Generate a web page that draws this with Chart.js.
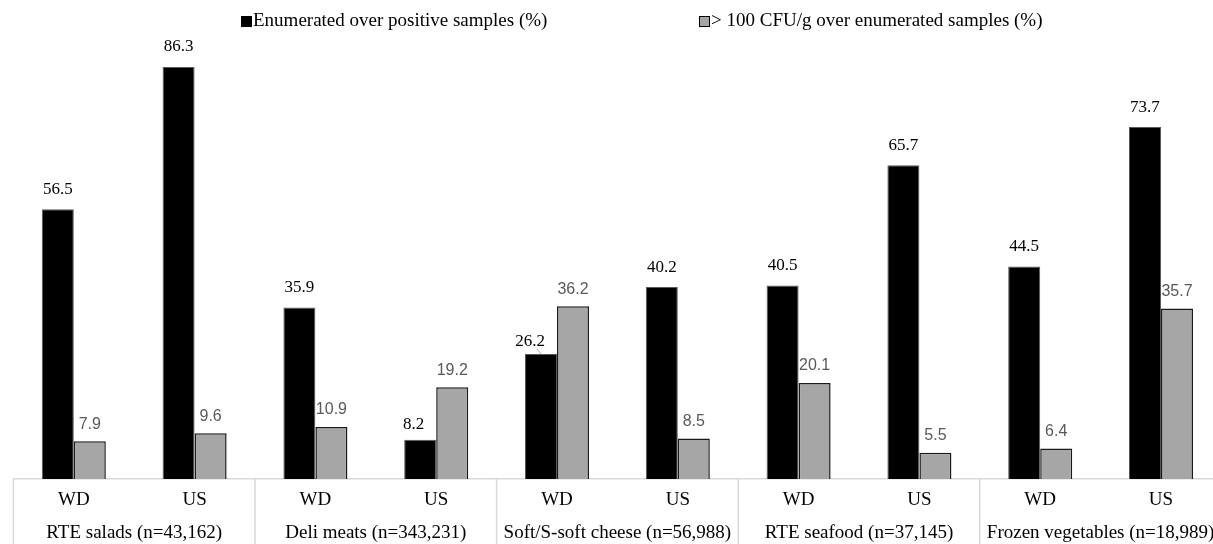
<!DOCTYPE html>
<html><head><meta charset="utf-8">
<script src="https://cdn.jsdelivr.net/npm/chart.js@4.4.1/dist/chart.umd.min.js"></script>
<style>html,body{margin:0;padding:0;background:#fff;overflow:hidden;}</style>
</head><body>
<canvas id="c" width="1222" height="545"></canvas>
<script>
const categories = ['WD','US','WD','US','WD','US','WD','US','WD','US'];
const groups = ['RTE salads (n=43,162)','Deli meats (n=343,231)','Soft/S-soft cheese (n=56,988)','RTE seafood (n=37,145)','Frozen vegetables (n=18,989)'];
const enumeratedPct = [56.5, 86.3, 35.9, 8.2, 26.2, 40.2, 40.5, 65.7, 44.5, 73.7];
const over100Pct = [7.9, 9.6, 10.9, 19.2, 36.2, 8.5, 20.1, 5.5, 6.4, 35.7];
const seriesNames = ['Enumerated over positive samples (%)', '> 100 CFU/g over enumerated samples (%)'];

const SEP = '#d9d9d9';

const valueLabels = {
  id: 'valueLabels',
  afterDatasetsDraw(chart) {
    const ctx = chart.ctx;
    const m0 = chart.getDatasetMeta(0), m1 = chart.getDatasetMeta(1);
    ctx.save();
    ctx.textAlign = 'center';
    ctx.textBaseline = 'middle';
    ctx.font = '16px "Liberation Sans"';
    ctx.fillStyle = '#595959';
    m1.data.forEach((bar, i) => {
      ctx.fillText(over100Pct[i].toFixed(1), bar.x, bar.y - 17);
    });
    ctx.font = '17px "Liberation Serif"';
    ctx.fillStyle = '#000';
    m0.data.forEach((bar, i) => {
      const txt = enumeratedPct[i].toFixed(1);
      const w = ctx.measureText(txt).width;
      const nb = m1.data[i];
      let x = bar.x, y = bar.y - 20;
      if (nb.y < y + 10) {
        x = bar.x + 4 - w / 2;
        const barLeft = bar.x - bar.width / 2;
        if (barLeft - (x - w / 2) > 6) {
          y = bar.y - 12;
          ctx.strokeStyle = '#a6a6a6';
          ctx.lineWidth = 1;
          ctx.beginPath();
          ctx.moveTo(x + w / 2 - 8, y + 7);
          ctx.lineTo(bar.x, bar.y);
          ctx.stroke();
        } else {
          y = bar.y - 15;
        }
      }
      ctx.fillText(txt, x, y);
    });
    ctx.restore();
  }
};

// group separators, placed from the group axis boundaries
const groupSeparators = {
  id: 'groupSeparators',
  afterDraw(chart) {
    const s = chart.scales.x2;
    const n = groups.length;
    const half = (s.getPixelForValue(1) - s.getPixelForValue(0)) / 2;
    const ctx = chart.ctx;
    ctx.save();
    ctx.strokeStyle = SEP;
    ctx.lineWidth = 1.5;
    ctx.beginPath();
    for (let i = 0; i <= n; i++) {
      const x = (i < n ? s.getPixelForValue(i) - half : s.getPixelForValue(n - 1) + half);
      ctx.moveTo(x, chart.chartArea.bottom);
      ctx.lineTo(x, chart.height);
    }
    ctx.stroke();
    ctx.restore();
  }
};

const topLegend = {
  id: 'topLegend',
  afterDraw(chart) {
    const ctx = chart.ctx;
    ctx.save();
    ctx.font = '19px "Liberation Serif"';
    ctx.textBaseline = 'middle';
    ctx.textAlign = 'left';
    const y = 21;
    const xs = [241, 699];
    chart.data.datasets.forEach((ds, i) => {
      const x = xs[i];
      ctx.fillStyle = ds.backgroundColor;
      ctx.fillRect(x, y - 5, 11, 11);
      ctx.strokeStyle = '#000';
      ctx.lineWidth = 1;
      ctx.strokeRect(x + 0.5, y - 4.5, 10, 10);
      ctx.fillStyle = '#000';
      ctx.fillText(ds.label, x + 12, y);
    });
    ctx.restore();
  }
};

new Chart(document.getElementById('c'), {
  type: 'bar',
  data: {
    labels: categories,
    datasets: [
      { label: seriesNames[0], data: enumeratedPct, backgroundColor: '#000000', borderColor: '#595959', borderWidth: 1, categoryPercentage: 0.53, barPercentage: 1 },
      { label: seriesNames[1], data: over100Pct, backgroundColor: '#a6a6a6', borderColor: '#1a1a1a', borderWidth: 1.5, categoryPercentage: 0.53, barPercentage: 1 }
    ]
  },
  options: {
    responsive: false,
    animation: false,
    layout: { padding: { top: 40, left: 13.4, right: 0.6, bottom: 0 } },
    plugins: { legend: { display: false }, tooltip: { enabled: false } },
    scales: {
      x: {
        type: 'category',
        offset: true,
        grid: { offset: true, drawOnChartArea: false, drawTicks: false, display: false },
        border: { display: true, color: SEP, width: 1.5 },
        ticks: { padding: 9.6, color: '#000', autoSkip: false, maxRotation: 0, font: { family: 'Liberation Serif', size: 19 } }
      },
      x2: {
        type: 'category',
        labels: groups,
        position: 'bottom',
        offset: true,
        grid: { offset: true, drawOnChartArea: false, drawTicks: false, display: false },
        border: { display: false },
        ticks: { padding: 0.6, color: '#000', autoSkip: false, maxRotation: 0, font: { family: 'Liberation Serif', size: 19 } }
      },
      y: { display: false, min: 0, max: 91.94 }
    }
  },
  plugins: [valueLabels, groupSeparators, topLegend]
});
</script>
</body></html>
